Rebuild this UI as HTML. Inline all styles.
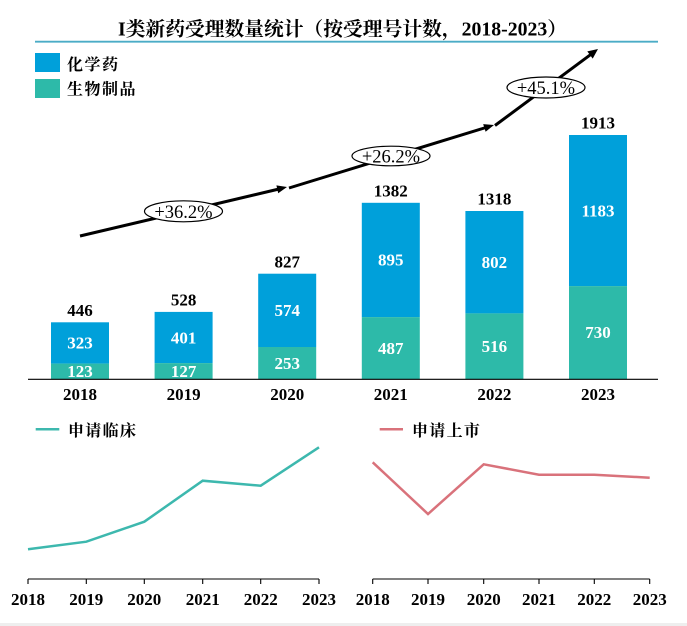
<!DOCTYPE html>
<html>
<head>
<meta charset="utf-8">
<style>
  html, body { margin: 0; padding: 0; background: #fff; }
  svg { display: block; }
  .cjk { font-family: "Liberation Serif", "Noto Serif CJK SC", serif; font-weight: bold; }
  .num { font-family: "Liberation Serif", serif; font-weight: bold; }
  .pct { font-family: "Liberation Serif", serif; font-weight: normal; }
</style>
</head>
<body>
<svg width="687" height="626" viewBox="0 0 687 626" xmlns="http://www.w3.org/2000/svg">
  <rect x="0" y="0" width="687" height="626" fill="#ffffff"/>

  <!-- Title -->
  <text class="cjk" x="118" y="35.5" font-size="19.5" fill="#000" textLength="449" lengthAdjust="spacingAndGlyphs">I类新药受理数量统计（按受理号计数，2018-2023）</text>
  <line x1="35" y1="41.7" x2="658" y2="41.7" stroke="#4BACC6" stroke-width="1.8"/>

  <!-- Legend -->
  <rect x="35" y="53" width="25" height="19" fill="#00A0DA"/>
  <text class="cjk" x="67" y="70" font-size="16" letter-spacing="1.5" fill="#000">化学药</text>
  <rect x="35" y="79" width="25" height="19" fill="#2DBAA9"/>
  <text class="cjk" x="67" y="94.5" font-size="16" letter-spacing="1.5" fill="#000">生物制品</text>

  <!-- Bars -->
  <g>
    <rect x="51" y="322.3" width="58" height="41.3" fill="#00A0DA"/>
    <rect x="51" y="363.6" width="58" height="15.7" fill="#2DBAA9"/>
    <rect x="154.6" y="311.9" width="58" height="51.2" fill="#00A0DA"/>
    <rect x="154.6" y="363.1" width="58" height="16.2" fill="#2DBAA9"/>
    <rect x="258.2" y="273.7" width="58" height="73.3" fill="#00A0DA"/>
    <rect x="258.2" y="347.0" width="58" height="32.3" fill="#2DBAA9"/>
    <rect x="361.8" y="202.8" width="58" height="114.3" fill="#00A0DA"/>
    <rect x="361.8" y="317.1" width="58" height="62.2" fill="#2DBAA9"/>
    <rect x="465.4" y="211.0" width="58" height="102.4" fill="#00A0DA"/>
    <rect x="465.4" y="313.4" width="58" height="65.9" fill="#2DBAA9"/>
    <rect x="569" y="135.0" width="58" height="151.1" fill="#00A0DA"/>
    <rect x="569" y="286.1" width="58" height="93.2" fill="#2DBAA9"/>
  </g>
  <line x1="28" y1="379.3" x2="658" y2="379.3" stroke="#000" stroke-width="1.2"/>

  <!-- Bar inside labels -->
  <g class="num" font-size="17" fill="#fff" text-anchor="middle">
    <text x="80" y="348.5">323</text>
    <text x="80" y="377">123</text>
    <text x="183.6" y="343.5">401</text>
    <text x="183.6" y="377">127</text>
    <text x="287.2" y="316">574</text>
    <text x="287.2" y="369">253</text>
    <text x="390.8" y="265.5">895</text>
    <text x="390.8" y="354">487</text>
    <text x="494.4" y="268">802</text>
    <text x="494.4" y="352">516</text>
    <text x="598" y="216.5">1183</text>
    <text x="598" y="338">730</text>
  </g>
  <!-- Totals -->
  <g class="num" font-size="17" fill="#000" text-anchor="middle">
    <text x="80" y="316">446</text>
    <text x="183.6" y="305.5">528</text>
    <text x="287.2" y="267.5">827</text>
    <text x="390.8" y="196.5">1382</text>
    <text x="494.4" y="204.5">1318</text>
    <text x="598" y="128.5">1913</text>
  </g>
  <!-- Year labels -->
  <g class="num" font-size="17" fill="#000" text-anchor="middle">
    <text x="80" y="400">2018</text>
    <text x="183.6" y="400">2019</text>
    <text x="287.2" y="400">2020</text>
    <text x="390.8" y="400">2021</text>
    <text x="494.4" y="400">2022</text>
    <text x="598" y="400">2023</text>
  </g>

  <!-- Growth arrows -->
  <g stroke="#000" stroke-width="3" fill="none" stroke-linecap="butt">
    <line x1="80" y1="236" x2="279" y2="189"/>
    <line x1="289" y1="188" x2="486" y2="127.5"/>
    <line x1="495" y1="125.5" x2="591" y2="54.3"/>
  </g>
  <g fill="#000">
    <polygon points="287,187 278.2,193.2 276.4,185.4"/>
    <polygon points="494,125 485.6,131.7 483.2,124.1"/>
    <polygon points="598,49 592.7,58.6 587.3,51.4"/>
  </g>
  <g fill="#fff" stroke="#000" stroke-width="1.2">
    <ellipse cx="183.5" cy="211.3" rx="39" ry="10.5"/>
    <ellipse cx="391" cy="156" rx="39" ry="9.8"/>
    <ellipse cx="546" cy="87.5" rx="39" ry="10.5"/>
  </g>
  <g class="pct" font-size="18.5" fill="#000" text-anchor="middle">
    <text x="183.5" y="217.8">+36.2%</text>
    <text x="391" y="162.5">+26.2%</text>
    <text x="546" y="94">+45.1%</text>
  </g>

  <!-- Bottom left chart -->
  <line x1="35.7" y1="429.3" x2="59.3" y2="429.3" stroke="#3DB8AE" stroke-width="2.5"/>
  <text class="cjk" x="68" y="436" font-size="16" letter-spacing="1.3" fill="#000">申请临床</text>
  <polyline points="28,549.3 86.3,541.7 144.3,521.7 202.7,480.7 260.7,485.7 319,447.3" fill="none" stroke="#3DB8AE" stroke-width="2.5" stroke-linejoin="miter"/>
  <g stroke="#000" stroke-width="1.1">
    <line x1="28" y1="579" x2="319" y2="579"/>
    <line x1="28" y1="579" x2="28" y2="584"/>
    <line x1="86.3" y1="579" x2="86.3" y2="584"/>
    <line x1="144.3" y1="579" x2="144.3" y2="584"/>
    <line x1="202.7" y1="579" x2="202.7" y2="584"/>
    <line x1="260.7" y1="579" x2="260.7" y2="584"/>
    <line x1="319" y1="579" x2="319" y2="584"/>
  </g>
  <g class="num" font-size="17" fill="#000" text-anchor="middle">
    <text x="28" y="605">2018</text>
    <text x="86.3" y="605">2019</text>
    <text x="144.3" y="605">2020</text>
    <text x="202.7" y="605">2021</text>
    <text x="260.7" y="605">2022</text>
    <text x="319" y="605">2023</text>
  </g>

  <!-- Bottom right chart -->
  <line x1="379.7" y1="429.3" x2="403" y2="429.3" stroke="#D9727B" stroke-width="2.5"/>
  <text class="cjk" x="412" y="436" font-size="16" letter-spacing="1.3" fill="#000">申请上市</text>
  <polyline points="372.7,462.3 428,514 483.7,464.3 539,474.7 594.3,474.7 649.7,477.7" fill="none" stroke="#D9727B" stroke-width="2.5" stroke-linejoin="miter"/>
  <g stroke="#000" stroke-width="1.1">
    <line x1="372.7" y1="579" x2="649.7" y2="579"/>
    <line x1="372.7" y1="579" x2="372.7" y2="584"/>
    <line x1="428" y1="579" x2="428" y2="584"/>
    <line x1="483.7" y1="579" x2="483.7" y2="584"/>
    <line x1="539" y1="579" x2="539" y2="584"/>
    <line x1="594.3" y1="579" x2="594.3" y2="584"/>
    <line x1="649.7" y1="579" x2="649.7" y2="584"/>
  </g>
  <g class="num" font-size="17" fill="#000" text-anchor="middle">
    <text x="372.7" y="605">2018</text>
    <text x="428" y="605">2019</text>
    <text x="483.7" y="605">2020</text>
    <text x="539" y="605">2021</text>
    <text x="594.3" y="605">2022</text>
    <text x="649.7" y="605">2023</text>
  </g>

  <rect x="0" y="623" width="687" height="3" fill="#eeeeee"/>
</svg>
</body>
</html>
